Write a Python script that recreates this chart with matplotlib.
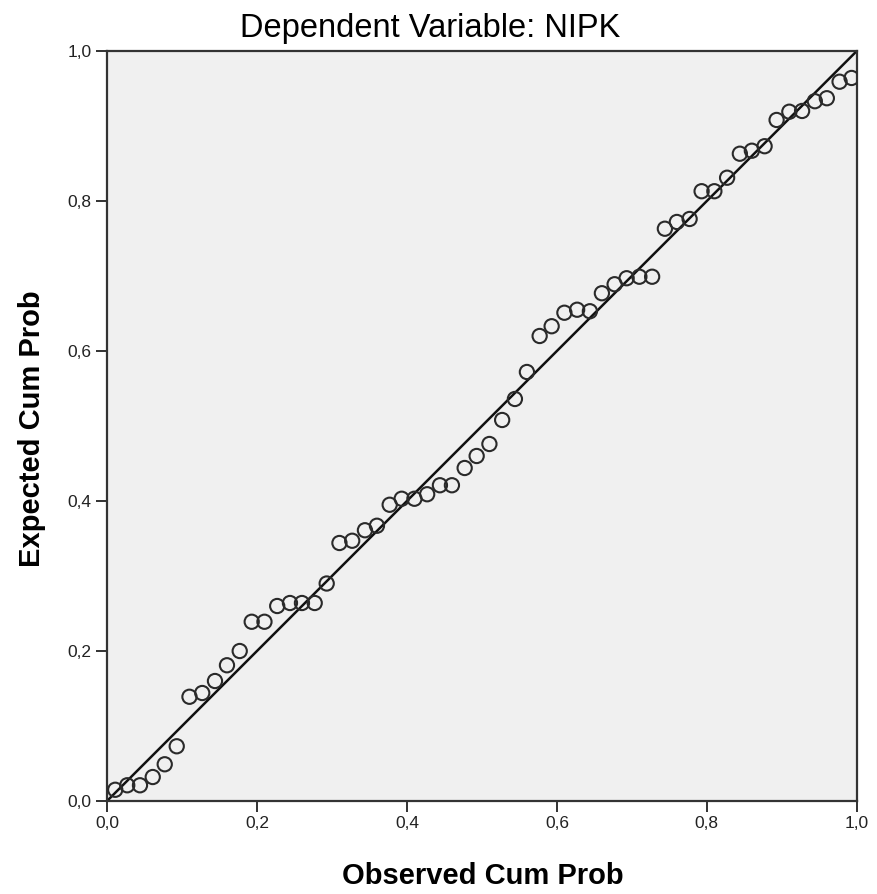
import matplotlib
matplotlib.use("Agg")
import matplotlib.pyplot as plt
from matplotlib.ticker import FuncFormatter

plt.rcParams['font.family'] = ['Liberation Sans', 'DejaVu Sans']

# observed vs expected cumulative probabilities
observed = [0.011, 0.027, 0.044, 0.061, 0.077, 0.093, 0.110, 0.127, 0.144, 0.160,
            0.177, 0.193, 0.210, 0.227, 0.244, 0.260, 0.277, 0.293, 0.310, 0.327,
            0.344, 0.360, 0.377, 0.393, 0.410, 0.427, 0.444, 0.460, 0.477, 0.493,
            0.510, 0.527, 0.544, 0.560, 0.577, 0.593, 0.610, 0.627, 0.644, 0.660,
            0.677, 0.693, 0.710, 0.727, 0.744, 0.760, 0.777, 0.793, 0.810, 0.827,
            0.844, 0.860, 0.877, 0.893, 0.910, 0.927, 0.944, 0.960, 0.977, 0.993]
expected = [0.015, 0.021, 0.021, 0.032, 0.049, 0.073, 0.139, 0.144, 0.160, 0.181,
            0.200, 0.239, 0.239, 0.260, 0.264, 0.264, 0.264, 0.290, 0.344, 0.347,
            0.361, 0.367, 0.395, 0.403, 0.403, 0.409, 0.421, 0.421, 0.444, 0.460,
            0.476, 0.508, 0.536, 0.572, 0.620, 0.633, 0.651, 0.655, 0.653, 0.677,
            0.689, 0.697, 0.699, 0.699, 0.763, 0.772, 0.776, 0.813, 0.813, 0.831,
            0.863, 0.867, 0.873, 0.908, 0.919, 0.920, 0.933, 0.937, 0.959, 0.964]
ticks = [0.0, 0.2, 0.4, 0.6, 0.8, 1.0]

fig = plt.figure(figsize=(8.77, 8.94), dpi=100)
ax = fig.add_axes([0.122, 0.104, 0.855, 0.839])
ax.set_facecolor('#f0f0f0')

ax.plot([0, 1], [0, 1], color='#111111', lw=1.8, zorder=2)
ax.scatter(observed, expected, s=105, facecolors='none', edgecolors='#2a2a2a',
           linewidths=1.5, zorder=3)

ax.set_xlim(0, 1)
ax.set_ylim(0, 1)
ax.set_xticks(ticks)
ax.set_yticks(ticks)
fmt = FuncFormatter(lambda v, p: f"{v:.1f}".replace('.', ','))
ax.xaxis.set_major_formatter(fmt)
ax.yaxis.set_major_formatter(fmt)
ax.tick_params(direction='out', length=8, width=1.3, colors='#222222',
               labelsize=12.5, pad=3)
for s in ax.spines.values():
    s.set_color('#333333')
    s.set_linewidth(1.6)

# title and axis labels placed on the figure like the SPSS output
fig.text(0.49, 0.9586, "Dependent Variable: NIPK", fontsize=23.5,
         ha='center', va='baseline')
fig.text(0.55, 0.02, "Observed Cum Prob", fontsize=21, fontweight='bold',
         ha='center', va='center')
fig.text(0.037, 0.521, "Expected Cum Prob", fontsize=21, fontweight='bold',
         ha='center', va='center', rotation=90)

fig.savefig("out.png", dpi=100)
